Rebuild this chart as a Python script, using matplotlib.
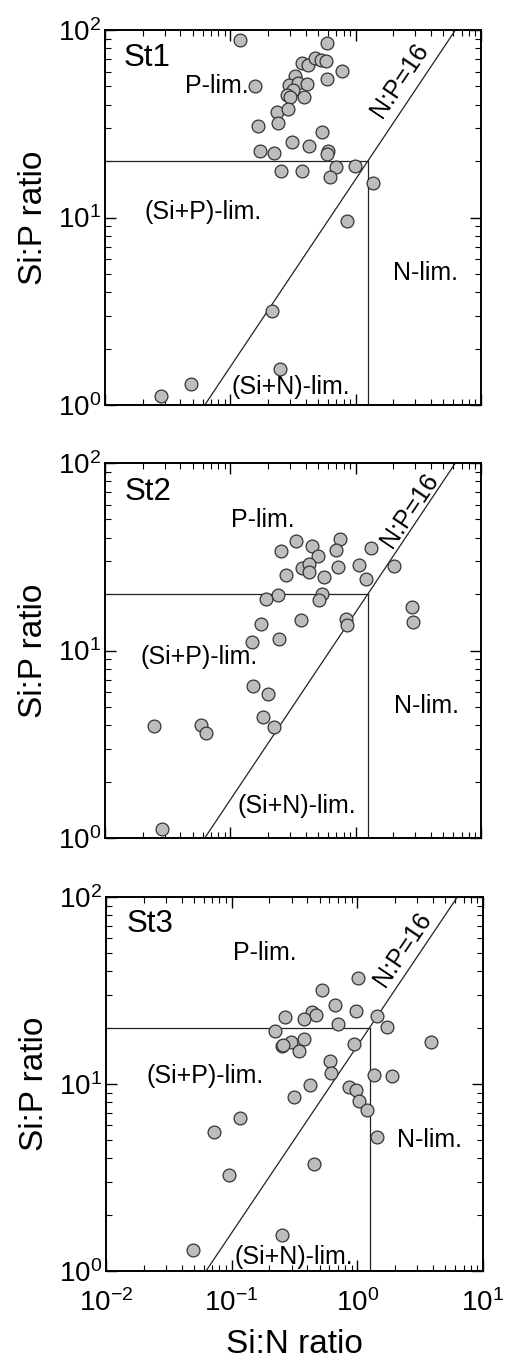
import matplotlib
matplotlib.use('Agg')
import matplotlib.pyplot as plt
import numpy as np

plt.rcParams['font.family'] = ['Liberation Sans', 'DejaVu Sans']
plt.rcParams['mathtext.default'] = 'regular'

# Si:N ratio (x) and Si:P ratio (y) for each station
st1_sin = [0.119, 0.588, 0.157, 0.371, 0.419, 0.474, 0.526, 0.580, 0.783, 0.588,
           0.328, 0.294, 0.344, 0.406, 0.318, 0.285, 0.299, 0.388, 0.237, 0.287,
           0.241, 0.167, 0.542, 0.313, 0.427, 0.172, 0.223, 0.605, 0.594, 0.254,
           0.375, 0.697, 0.989, 0.624, 1.38, 0.847, 0.216, 0.249, 0.0483, 0.0278]
st1_sip = [88.4, 84.9, 50.5, 66.4, 65.1, 70.6, 69.2, 68.4, 60.4, 54.6,
           56.9, 50.9, 52.4, 51.5, 47.9, 45.0, 43.7, 44.1, 36.6, 37.7,
           31.8, 30.8, 28.7, 25.4, 24.1, 22.5, 22.2, 22.5, 21.8, 17.8,
           17.8, 18.5, 18.8, 16.4, 15.3, 9.6, 3.18, 1.56, 1.29, 1.12]

st2_sin = [0.750, 0.334, 0.451, 0.252, 0.692, 1.318, 0.503, 0.371, 0.427, 0.427,
           0.727, 1.07, 2.02, 0.276, 0.558, 1.21, 0.239, 0.542, 0.191, 0.513,
           2.80, 2.85, 0.367, 0.832, 0.848, 0.175, 0.246, 0.148, 0.151, 0.199,
           0.183, 0.223, 0.0246, 0.058, 0.0635, 0.0286]
st2_sip = [39.3, 38.5, 36.2, 33.9, 34.3, 35.4, 32.0, 27.6, 28.9, 26.1,
           27.9, 28.5, 28.2, 25.2, 24.7, 24.2, 19.7, 20.1, 18.8, 18.7,
           17.1, 14.2, 14.6, 14.7, 13.7, 13.8, 11.5, 11.1, 6.50, 5.87,
           4.41, 3.93, 3.98, 4.01, 3.65, 1.12]

st3_sin = [1.01, 0.523, 0.670, 0.968, 0.434, 0.470, 0.268, 0.373, 1.44, 0.708,
           1.72, 0.222, 0.375, 0.294, 0.252, 0.258, 0.342, 0.937, 3.83, 0.601,
           0.620, 1.36, 1.88, 0.422, 0.851, 0.980, 1.04, 1.20, 0.316, 0.117,
           0.0729, 1.43, 0.451, 0.0948, 0.251, 0.0488]
st3_sip = [36.7, 32.0, 26.6, 24.7, 24.3, 23.3, 22.9, 22.3, 23.2, 21.0,
           20.2, 19.3, 17.3, 16.8, 15.9, 16.1, 15.1, 16.4, 16.8, 13.2,
           11.5, 11.2, 11.0, 9.84, 9.64, 9.33, 8.14, 7.29, 8.48, 6.58,
           5.53, 5.18, 3.74, 3.27, 1.55, 1.30]

stations = ['St1', 'St2', 'St3']
si_n = [st1_sin, st2_sin, st3_sin]
si_p = [st1_sip, st2_sip, st3_sip]

# thresholds: Si:P = 20, Si:N = 1.25, N:P = 16
sip_lim = 20
sin_lim = 1.25
np_ratio = 16

# region label positions (x, y) per panel
lab_plim = [(0.0778, 50.5), (0.183, 49.5), (0.185, 50.3)]
lab_sip = [(0.0609, 10.7), (0.0566, 9.27), (0.0614, 11.0)]
lab_nlim = [(3.64, 5.03), (3.68, 5.07), (3.72, 5.03)]
lab_sin = [(0.305, 1.25), (0.338, 1.49), (0.313, 1.19)]
lab_st = [(0.0215, 70.6), (0.0222, 70.2), (0.0225, 71.4)]
lab_np = [(2.26, 54.1), (2.72, 56.0), (2.31, 52.4)]

fig = plt.figure(figsize=(5.18, 13.61), dpi=100)
W, H = 518, 1361
boxes = [(105, 30, 376, 375), (105, 463, 376, 375), (106, 897, 377, 374)]

for i in range(3):
    l, t, w, h = boxes[i]
    ax = fig.add_axes([l / W, 1 - (t + h) / H, w / W, h / H])
    ax.set_xscale('log')
    ax.set_yscale('log')
    ax.set_xlim(1e-2, 1e1)
    ax.set_ylim(1e0, 1e2)

    # limitation boundaries
    ax.plot([1e-2, sin_lim], [sip_lim, sip_lim], color='#222222', lw=0.9)
    ax.plot([sin_lim, sin_lim], [1, sip_lim], color='#222222', lw=0.9)
    xl = np.array([1 / np_ratio, 100 / np_ratio])
    ax.plot(xl, xl * np_ratio, color='#222222', lw=0.9)

    ax.scatter(si_n[i], si_p[i], s=85, facecolor='#bdbdbd', edgecolor='#333333',
               linewidths=0.9, zorder=3)

    fs = 18
    ax.text(*lab_st[i], stations[i], fontsize=22.5, ha='center', va='center')
    ax.text(*lab_plim[i], 'P-lim.', fontsize=fs, ha='center', va='center')
    ax.text(*lab_sip[i], '(Si+P)-lim.', fontsize=fs, ha='center', va='center')
    ax.text(*lab_nlim[i], 'N-lim.', fontsize=fs, ha='center', va='center')
    ax.text(*lab_sin[i], '(Si+N)-lim.', fontsize=fs, ha='center', va='center')
    ax.text(*lab_np[i], 'N:P=16', fontsize=fs, ha='center', va='center',
            rotation=56, rotation_mode='anchor')

    ax.tick_params(which='both', direction='in', top=True, right=True,
                   labelsize=20)
    ax.tick_params(axis='x', pad=13)
    ax.tick_params(axis='y', pad=3)
    ax.tick_params(which='major', length=8, width=1.0)
    ax.tick_params(which='minor', length=4, width=0.8)
    for sp in ax.spines.values():
        sp.set_linewidth(1.4)
    ax.set_ylabel('Si:P ratio', fontsize=24, labelpad=6)
    if i < 2:
        ax.set_xticklabels([])
    else:
        ax.set_xlabel('Si:N ratio', fontsize=24, labelpad=9)

fig.savefig('out.png', dpi=100)
